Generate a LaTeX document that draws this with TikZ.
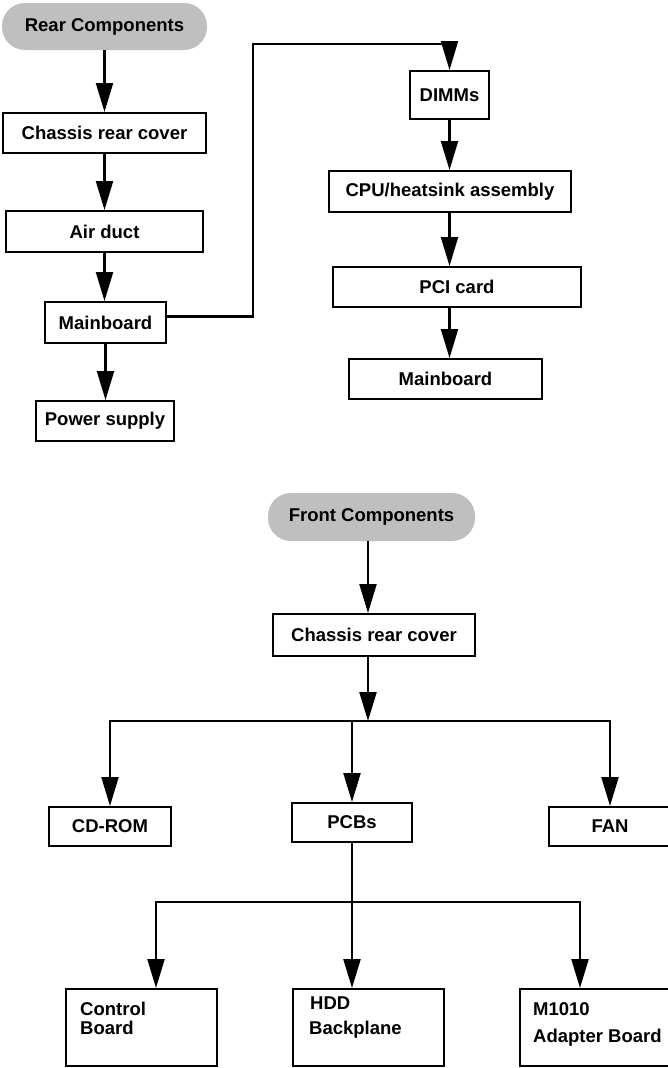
\documentclass[tikz,border=0pt]{standalone}
\usepackage{fontspec}
\setmainfont{Liberation Sans}
\usetikzlibrary{arrows.meta}

\begin{document}
\begin{tikzpicture}[x=1pt, y=1pt,
    box/.style={draw=black, line width=2pt, inner sep=0pt,
                font=\fontsize{18.5}{19}\selectfont\bfseries},
    pill/.style={fill=black!25, rounded corners=23pt, inner sep=0pt,
                 font=\fontsize{18.5}{19}\selectfont\bfseries},
    txt/.style={inner sep=0pt, anchor=base west,
                font=\fontsize{18.5}{19}\selectfont\bfseries},
    link/.style={line width=2.2pt},
    conn/.style={link, -{Triangle[length=29pt, width=17pt]}}]

  \useasboundingbox (0,0) rectangle (668,-1068);

  % rear components
  \node[pill, minimum width=205pt, minimum height=47pt] (rear) at (104.5,-26.5) {Rear Components};
  \node[box, minimum width=203pt, minimum height=40pt] (rcover) at (104.5,-133) {Chassis rear cover};
  \node[box, minimum width=197pt, minimum height=41pt] (duct) at (104.5,-231.5) {Air duct};
  \node[box, minimum width=121pt, minimum height=41pt] (rboard) at (105.5,-322.5) {Mainboard};
  \node[box, minimum width=138pt, minimum height=40pt] (psu) at (105,-421) {Power supply};

  \draw[conn] (rear.south) -- (rcover.north);
  \draw[conn] (rcover.south) -- (duct.north);
  \draw[conn] (duct.south) -- (duct.south |- rboard.north);
  \draw[conn] (rboard.south) -- (rboard.south |- psu.north);

  \node[box, minimum width=79pt, minimum height=48pt] (dimm) at (449.5,-95) {DIMMs};
  \node[box, minimum width=242pt, minimum height=41pt] (cpu) at (450,-191.5) {CPU/heatsink assembly};
  \node[box, minimum width=248pt, minimum height=40pt] (pci) at (457,-287) {PCI card};
  \node[box, minimum width=193pt, minimum height=40pt] (mboard) at (445.5,-379) {Mainboard};

  \coordinate (bend) at (253,-44);
  \draw[conn] ([yshift=6pt]rboard.east) -| (bend) -| (dimm.north);
  \draw[conn] (dimm.south) -- (dimm.south |- cpu.north);
  \draw[conn] (cpu.south -| dimm) -- (dimm |- pci.north);
  \draw[conn] (pci.south -| dimm) -- (dimm |- mboard.north);

  % front components
  \node[pill, minimum width=207pt, minimum height=48pt] (front) at (371.5,-517) {Front Components};
  \node[box, minimum width=202pt, minimum height=42pt] (fcover) at (374,-635) {Chassis rear cover};

  \coordinate (fjoin) at (368,-721);
  \draw[conn] (front.south -| fjoin) -- (fjoin |- fcover.north);
  \draw[conn] (fcover.south -| fjoin) -- (fjoin);

  \node[box, minimum width=122pt, minimum height=39pt] (cdrom) at (110,-826.5) {CD-ROM};
  \node[box, minimum width=120pt, minimum height=39pt] (pcb) at (352,-822.5) {PCBs};
  \node[box, minimum width=122pt, minimum height=39pt] (fan) at (610,-826.5) {FAN};

  \draw[conn] (fjoin) -| (cdrom.north);
  \draw[conn] (fjoin) -| (fan.north);
  \draw[conn] (fjoin -| pcb) -- (pcb.north);

  \node[box, minimum width=151pt, minimum height=77pt] (ctrl) at (141.5,-1027.5) {};
  \node[box, minimum width=151pt, minimum height=77pt] (hdd) at (368.5,-1027.5) {};
  \node[box, minimum width=151pt, minimum height=77pt] (adapt) at (595.5,-1027.5) {};

  \node[txt] (ctrla) at ([shift={(15,-27)}]ctrl.north west) {Control};
  \node[txt] (ctrlb) at ([yshift=-19pt]ctrla.base west) {Board};
  \node[txt] (hdda) at ([shift={(18,-21)}]hdd.north west) {HDD};
  \node[txt] (hddb) at ([shift={(-1,-25)}]hdda.base west) {Backplane};
  \node[txt] (adapta) at ([shift={(14,-27)}]adapt.north west) {M1010};
  \node[txt] (adaptb) at ([yshift=-27pt]adapta.base west) {Adapter Board};

  \coordinate (pjoin) at (352,-902);
  \coordinate (cl) at (156,-902);
  \coordinate (cr) at (580,-902);
  \draw[conn] (pcb.south) -- (pcb.south |- hdd.north);
  \draw[conn] (pjoin) -- (cl) -- (cl |- ctrl.north);
  \draw[conn] (pjoin) -- (cr) -- (cr |- adapt.north);
\end{tikzpicture}
\end{document}
